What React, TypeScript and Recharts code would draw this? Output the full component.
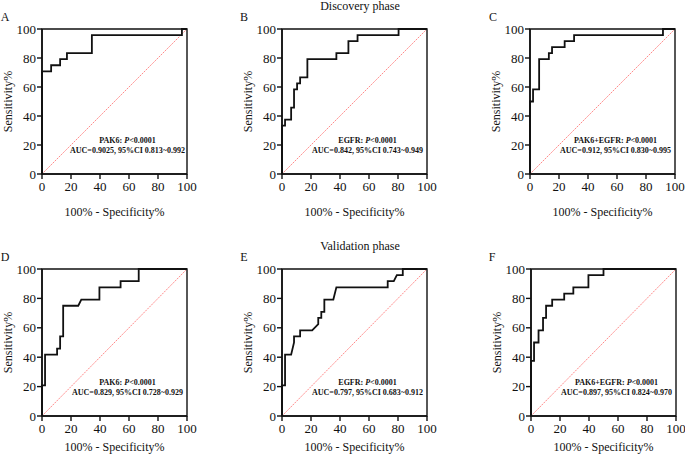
import React from "react"
import { LineChart, Line, XAxis, YAxis, ReferenceArea, ReferenceLine } from "recharts"

// ROC points (100% - specificity, sensitivity)
const aFpr = [0, 0, 6.3, 6.3, 12.5, 12.5, 17.2, 17.2, 34.4, 34.4, 96.5, 96.5, 100]
const aTpr = [0, 70.8, 70.8, 75, 75, 79.2, 79.2, 83.3, 83.3, 95.8, 95.8, 100, 100]

const bFpr = [0, 0, 2.1, 2.1, 6.3, 6.3, 8.3, 8.3, 10.4, 10.4, 12.5, 12.5, 17.5, 17.5, 37.5, 37.5, 45.8, 45.8, 52.1, 52.1, 80.4, 80.4, 100]
const bTpr = [0, 33.3, 33.3, 37.5, 37.5, 45.8, 45.8, 58.3, 58.3, 62.5, 62.5, 66.7, 66.7, 79.2, 79.2, 83.3, 83.3, 91.7, 91.7, 95.8, 95.8, 100, 100]

const cFpr = [0, 0, 2.1, 2.1, 6.3, 6.3, 13, 13, 15.2, 15.2, 23.9, 23.9, 30.4, 30.4, 91.7, 91.7, 100]
const cTpr = [0, 50, 50, 58.3, 58.3, 79.2, 79.2, 83.3, 83.3, 87.5, 87.5, 91.7, 91.7, 95.8, 95.8, 100, 100]

const dFpr = [0, 0, 2.1, 2.1, 10.4, 10.4, 12.5, 12.5, 14.6, 14.6, 25, 27.1, 39.6, 39.6, 54.2, 54.2, 66.7, 66.7, 100]
const dTpr = [0, 20.8, 20.8, 41.7, 41.7, 45.8, 45.8, 54.2, 54.2, 75, 75, 79.2, 79.2, 87.5, 87.5, 91.7, 91.7, 100, 100]

const eFpr = [0, 0, 2.1, 2.1, 6.3, 8.3, 8.3, 12.5, 12.5, 20.8, 25, 25, 27.1, 27.1, 29.2, 29.2, 35.4, 37.5, 72.9, 72.9, 77.1, 79.2, 83.3, 83.3, 100]
const eTpr = [0, 20.8, 20.8, 41.7, 41.7, 50, 54.2, 54.2, 58.3, 58.3, 62.5, 66.7, 66.7, 70.8, 70.8, 79.2, 79.2, 87.5, 87.5, 91.7, 91.7, 95.8, 95.8, 100, 100]

const fFpr = [0, 0, 2.1, 2.1, 5.2, 5.2, 8.3, 8.3, 10.4, 10.4, 14.6, 14.6, 22.9, 22.9, 29.2, 29.2, 39.6, 39.6, 50, 50, 100]
const fTpr = [0, 37.5, 37.5, 50, 50, 58.3, 58.3, 66.7, 66.7, 75, 75, 79.2, 79.2, 83.3, 83.3, 87.5, 87.5, 95.8, 95.8, 100, 100]

const axisTicks = [0, 20, 40, 60, 80, 100]
const diagonal = [0, 100]

const markers = ["PAK6", "EGFR", "PAK6+EGFR", "PAK6", "EGFR", "PAK6+EGFR"]
const aucLabels = [
  "AUC=0.9025, 95%CI 0.813~0.992",
  "AUC=0.842, 95%CI 0.743~0.949",
  "AUC=0.912, 95%CI 0.830~0.995",
  "AUC=0.829, 95%CI 0.728~0.929",
  "AUC=0.797, 95%CI 0.683~0.912",
  "AUC=0.897, 95%CI 0.824~0.970",
]
const letters = ["A", "B", "C", "D", "E", "F"]

const FONT = "'Liberation Serif', 'Times New Roman', serif"

const panels = [
  { fpr: aFpr, tpr: aTpr, left: 42, top: 29, h: 145, titleGap: 38 },
  { fpr: bFpr, tpr: bTpr, left: 282, top: 29, h: 145, titleGap: 38 },
  { fpr: cFpr, tpr: cTpr, left: 530, top: 29, h: 145, titleGap: 38 },
  { fpr: dFpr, tpr: dTpr, left: 42, top: 269, h: 147, titleGap: 31 },
  { fpr: eFpr, tpr: eTpr, left: 282, top: 269, h: 147, titleGap: 31 },
  { fpr: fFpr, tpr: fTpr, left: 531, top: 269, h: 147, titleGap: 31 },
]

const PLOT_W = 145
const Y_AXIS_W = 45
const X_AXIS_H = 30

const tickStyle = { fontFamily: FONT, fontSize: 13, fill: "#111" }

function RocPanel({ fpr, tpr, left, top, h }: { fpr: number[]; tpr: number[]; left: number; top: number; h: number }) {
  const data = fpr.map((x, i) => ({ x, y: tpr[i] }))
  return (
    <div style={{ position: "absolute", left: left - Y_AXIS_W, top: top - 10 }}>
      <LineChart
        width={Y_AXIS_W + PLOT_W + 10}
        height={10 + h + X_AXIS_H}
        data={data}
        margin={{ top: 10, right: 10, bottom: 0, left: 0 }}
      >
        <XAxis
          dataKey="x"
          type="number"
          domain={[0, 100]}
          ticks={axisTicks}
          interval={0}
          height={X_AXIS_H}
          tick={tickStyle}
          tickSize={5}
          tickMargin={3}
          axisLine={{ stroke: "#111", strokeWidth: 1.6 }}
          tickLine={{ stroke: "#111", strokeWidth: 1.4 }}
        />
        <YAxis
          type="number"
          domain={[0, 100]}
          ticks={axisTicks}
          interval={0}
          width={Y_AXIS_W}
          tick={tickStyle}
          tickSize={5}
          tickMargin={1}
          axisLine={{ stroke: "#111", strokeWidth: 1.6 }}
          tickLine={{ stroke: "#111", strokeWidth: 1.4 }}
        />
        <ReferenceArea x1={0} x2={100} y1={0} y2={100} fill="none" stroke="#111" strokeWidth={1.4} />
        <ReferenceLine
          segment={[{ x: diagonal[0], y: diagonal[0] }, { x: diagonal[1], y: diagonal[1] }]}
          stroke="#ff8a8a"
          strokeWidth={1}
          strokeDasharray="2 1"
        />
        <Line
          type="linear"
          dataKey="y"
          stroke="#111"
          strokeWidth={1.8}
          dot={false}
          isAnimationActive={false}
        />
      </LineChart>
    </div>
  )
}

export default function App() {
  return (
    <div style={{ position: "absolute", left: 0, top: 0, width: 685, height: 455, background: "#fff", overflow: "hidden" }}>
      {panels.map((p, i) => (
        <RocPanel key={i} fpr={p.fpr} tpr={p.tpr} left={p.left} top={p.top} h={p.h} />
      ))}
      <svg width={685} height={455} style={{ position: "absolute", left: 0, top: 0, pointerEvents: "none" }}>
        <g fontFamily={FONT} fill="#111">
          <text x={360} y={6} fontSize={12} textAnchor="middle" dominantBaseline="central">Discovery phase</text>
          <text x={360} y={246} fontSize={12} textAnchor="middle" dominantBaseline="central">Validation phase</text>
          {panels.map((p, i) => {
            const cx = p.left + PLOT_W / 2
            const midY = p.top + p.h / 2
            const bottom = p.top + p.h
            const letterX = [5, 244, 493, 5, 244, 492][i]
            const yTitleX = p.left - 34
            const annoX = cx + 13
            return (
              <g key={i}>
                <text x={letterX} y={p.top - 12} fontSize={12} textAnchor="middle" dominantBaseline="central">{letters[i]}</text>
                <text
                  x={yTitleX}
                  y={midY}
                  fontSize={12}
                  textAnchor="middle"
                  dominantBaseline="central"
                  transform={`rotate(-90 ${yTitleX} ${midY})`}
                >
                  Sensitivity%
                </text>
                <text x={cx} y={bottom + p.titleGap} fontSize={12} textAnchor="middle" dominantBaseline="central">
                  100% - Specificity%
                </text>
                <text x={annoX} y={bottom - 34} fontSize={8} fontWeight="bold" textAnchor="middle" dominantBaseline="central">
                  {markers[i]}: <tspan fontStyle="italic">P</tspan>{"<0.0001"}
                </text>
                <text x={annoX} y={bottom - 24} fontSize={8} fontWeight="bold" textAnchor="middle" dominantBaseline="central">
                  {aucLabels[i]}
                </text>
              </g>
            )
          })}
        </g>
      </svg>
    </div>
  )
}
